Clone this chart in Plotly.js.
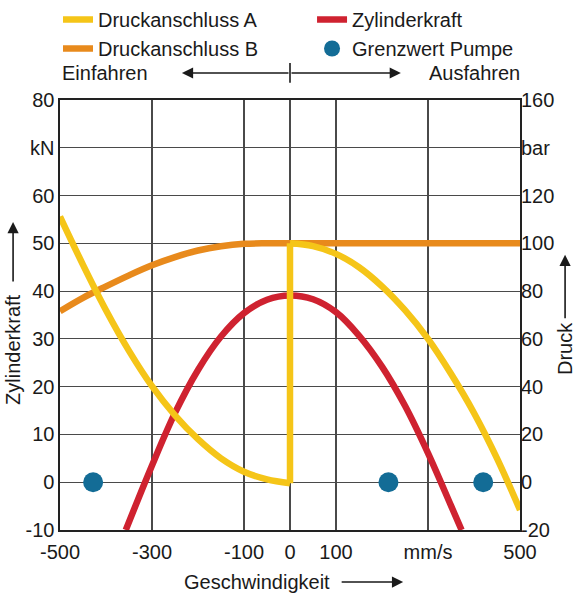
<!DOCTYPE html>
<html><head><meta charset="utf-8">
<script src="https://cdn.plot.ly/plotly-3.0.1.min.js"></script>
<style>html,body{margin:0;padding:0;background:#fff}</style>
</head><body><div id="chart" style="width:580px;height:600px"></div>
<script>
// Tick labels
const xTickVals = [-500, -300, -100, 0, 100, 300, 500];
const xTickText = ['-500', '-300', '-100', '0', '100', 'mm/s', '500'];
const yTickVals = [-10, 0, 10, 20, 30, 40, 50, 60, 70, 80];
const yTickText = ['-10', '0', '10', '20', '30', '40', '50', '60', 'kN', '80'];
const y2TickVals = [-20, 0, 20, 40, 60, 80, 100, 120, 140, 160];
const y2TickText = ['-20', '0', '20', '40', '60', '80', '100', '120', 'bar', '160'];

// Druckanschluss A (bar) – Einfahren side, switch at 0, Ausfahren side
const aLeftX = [-500, -450, -400, -350, -300, -250, -200, -150, -100, -50, 0];
const aLeftY = [111.2, 91, 72, 55, 40.2, 28, 18, 10, 4.4, 1.2, -0.4];
const aJumpX = [0, 0];
const aJumpY = [-0.4, 100];
const aRightX = [0, 50, 100, 150, 200, 250, 300, 350, 400, 450, 500];
const aRightY = [100, 98.8, 95.6, 90, 82, 72, 60, 45.4, 29, 10, -11.6];

// Druckanschluss B (bar)
const bX = [-500, -450, -400, -350, -300, -250, -200, -150, -100, -50, 0, 500];
const bY = [71.6, 77.2, 82, 86.6, 90.8, 94.2, 97, 98.8, 99.8, 100, 100, 100];

// Zylinderkraft (kN)
const fX = [-357, -300, -250, -200, -150, -100, -50, 0, 50, 100, 150, 200, 250, 300, 350, 373];
const fY = [-10, 3.5, 14.5, 23.5, 30.5, 35.4, 38.2, 39.1, 38.3, 35.6, 30.7, 24.2, 16, 6.1, -4.9, -10];

// Grenzwert Pumpe (kN)
const gX = [-428, 214, 420];
const gY = [0, 0, 0];

const cA = '#f5c518', cB = '#e88a1c', cF = '#cf2230', cG = '#136c96';
const LW = 6.5;

const traces = [
  {x: fX, y: fY, yaxis: 'y', mode: 'lines', name: 'Zylinderkraft', legend: 'legend2', legendrank: 1,
   line: {color: cF, width: LW, shape: 'spline', smoothing: 1}},
  {x: gX, y: gY, yaxis: 'y', mode: 'markers', name: 'Grenzwert Pumpe', legend: 'legend2', legendrank: 2,
   marker: {color: cG, size: 20, line: {width: 0}}},
  {x: bX, y: bY, yaxis: 'y2', mode: 'lines', name: 'Druckanschluss B', legend: 'legend', legendrank: 2,
   line: {color: cB, width: LW, shape: 'spline', smoothing: 1}},
  {x: aLeftX, y: aLeftY, yaxis: 'y2', mode: 'lines', name: 'Druckanschluss A', legend: 'legend', legendrank: 1,
   legendgroup: 'A', line: {color: cA, width: LW, shape: 'spline', smoothing: 1}},
  {x: aJumpX, y: aJumpY, yaxis: 'y2', mode: 'lines', name: 'Druckanschluss A', legendgroup: 'A',
   showlegend: false, line: {color: cA, width: LW}},
  {x: aRightX, y: aRightY, yaxis: 'y2', mode: 'lines', name: 'Druckanschluss A', legendgroup: 'A',
   showlegend: false, line: {color: cA, width: LW, shape: 'spline', smoothing: 1}}
];

const txt = '#1a1a1a';
const arrowBase = {text: '', showarrow: true, arrowhead: 2, arrowsize: 1.4, arrowwidth: 1.6, arrowcolor: txt, standoff: 0, startstandoff: 0};
const legendBase = {orientation: 'v', xref: 'container', yref: 'container', y: 1.045,
  xanchor: 'left', yanchor: 'top', traceorder: 'normal', tracegroupgap: 0,
  font: {size: 20, color: txt}, bgcolor: 'rgba(0,0,0,0)', borderwidth: 0};

const layout = {
  width: 580, height: 600,
  margin: {l: 60, r: 60, t: 100, b: 70, pad: 0, autoexpand: false},
  paper_bgcolor: '#ffffff', plot_bgcolor: '#ffffff',
  font: {family: '"Liberation Sans", Arial, sans-serif', size: 20, color: txt},
  showlegend: true,
  legend: Object.assign({}, legendBase, {x: 0.1}),
  legend2: Object.assign({}, legendBase, {x: 0.538}),
  xaxis: {range: [-500, 500], tickmode: 'array', tickvals: xTickVals, ticktext: xTickText,
          showgrid: true, gridcolor: '#4a4a4a', gridwidth: 1.2, zeroline: false,
          showline: true, mirror: true, linecolor: '#222', linewidth: 1.6, ticks: '',
          ticklabelstandoff: 3, fixedrange: true},
  yaxis: {range: [-10, 80], tickmode: 'array', tickvals: yTickVals, ticktext: yTickText,
          showgrid: true, gridcolor: '#4a4a4a', gridwidth: 1.2, zeroline: false,
          showline: true, mirror: true, linecolor: '#222', linewidth: 1.6, ticks: '',
          fixedrange: true},
  yaxis2: {range: [-20, 160], overlaying: 'y', side: 'right', tickmode: 'array',
           tickvals: y2TickVals, ticktext: y2TickText, showgrid: false, zeroline: false,
           showline: false, ticks: '', fixedrange: true},
  shapes: [
    {type: 'line', xref: 'x', yref: 'paper', x0: 0, x1: 0, y0: 1.040, y1: 1.086,
     line: {color: txt, width: 1.6}}
  ],
  annotations: [
    {text: 'Einfahren', xref: 'paper', yref: 'paper', x: 0.0, y: 1.0628, xanchor: 'left', yanchor: 'middle', showarrow: false},
    {text: 'Ausfahren', xref: 'paper', yref: 'paper', x: 1.004, y: 1.0628, xanchor: 'right', yanchor: 'middle', showarrow: false},
    Object.assign({}, arrowBase, {xref: 'x', yref: 'paper', x: -235, y: 1.0628, axref: 'x', ax: 0, ayref: 'pixel', ay: 0}),
    Object.assign({}, arrowBase, {xref: 'x', yref: 'paper', x: 241, y: 1.0628, axref: 'x', ax: 0, ayref: 'pixel', ay: 0}),
    {text: 'Zylinderkraft', xref: 'paper', yref: 'paper', x: -0.102, y: 0.419, textangle: -90, xanchor: 'center', yanchor: 'middle', showarrow: false},
    Object.assign({}, arrowBase, {xref: 'paper', yref: 'paper', x: -0.102, y: 0.716, ax: 0, ay: 61}),
    {text: 'Druck', xref: 'paper', yref: 'paper', x: 1.098, y: 0.421, textangle: -90, xanchor: 'center', yanchor: 'middle', showarrow: false},
    Object.assign({}, arrowBase, {xref: 'paper', yref: 'paper', x: 1.098, y: 0.64, ax: 0, ay: 65}),
    {text: 'Geschwindigkeit', xref: 'paper', yref: 'paper', x: 0.428, y: -0.121, xanchor: 'center', yanchor: 'middle', showarrow: false},
    Object.assign({}, arrowBase, {xref: 'paper', yref: 'paper', x: 0.746, y: -0.121, ax: -63, ay: 0})
  ]
};

Plotly.newPlot('chart', traces, layout, {displayModeBar: false, staticPlot: true});
</script>
</body></html>
